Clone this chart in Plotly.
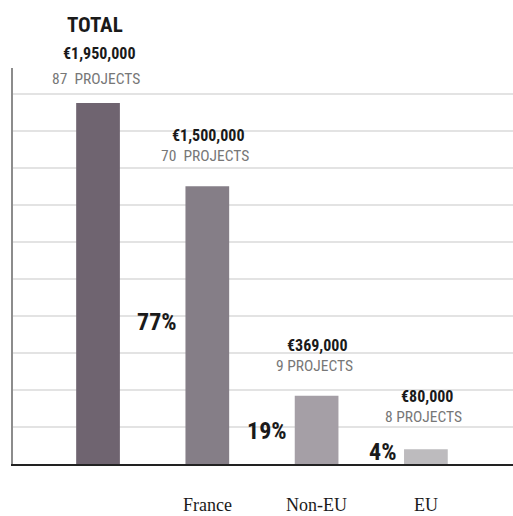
import plotly.graph_objects as go

categories = ["TOTAL", "France", "Non-EU", "EU"]
tick_labels = ["", "France", "Non-EU", "EU"]
amounts = [1950000, 1500000, 369000, 80000]
amount_labels = ["€1,950,000", "€1,500,000", "€369,000", "€80,000"]
project_labels = ["87  PROJECTS", "70  PROJECTS", "9 PROJECTS", "8 PROJECTS"]
shares = [None, "77%", "19%", "4%"]

bar_colors = ["#6f6470", "#857e87", "#a59fa6", "#bdbbbe"]
# style: label offsets above bar top (px)
amount_off = [50, 51, 50, 53]
proj_off = [24, 30, 30, 32]
share_y_px = [None, 142, 33, 12]

COND = "Roboto Condensed, Arial Narrow, Roboto, sans-serif"

fig = go.Figure()
fig.add_trace(go.Bar(
    x=categories, y=amounts, marker=dict(color=bar_colors, line=dict(width=0)),
    width=0.4, hoverinfo="skip",
))

ann = []
ann.append(dict(x=categories[0], y=amounts[0], xref="x", yref="y", text="<b>TOTAL</b>",
                showarrow=False, yshift=78, xshift=-3, yanchor="middle",
                font=dict(family=COND, size=21, color="#1a1a1a")))
for i, c in enumerate(categories):
    ann.append(dict(x=c, y=amounts[i], xref="x", yref="y", text="<b>%s</b>" % amount_labels[i],
                    showarrow=False, yshift=amount_off[i], yanchor="middle", xshift=1,
                    font=dict(family=COND, size=16, color="#1a1a1a")))
    ann.append(dict(x=c, y=amounts[i], xref="x", yref="y", text=project_labels[i],
                    showarrow=False, yshift=proj_off[i], yanchor="middle", xshift=-2,
                    font=dict(family=COND, size=15.5, color="#777777")))
    if shares[i]:
        ann.append(dict(x=c, y=0, xref="x", yref="y", text="<b>%s</b>" % shares[i],
                        showarrow=False, yshift=share_y_px[i], xshift=-28,
                        xanchor="right", yanchor="middle",
                        font=dict(family=COND, size=24, color="#1a1a1a")))
    if tick_labels[i]:
        ann.append(dict(x=c, y=0, xref="x", yref="y", text=tick_labels[i],
                        showarrow=False, yshift=-41, yanchor="middle",
                        font=dict(family="Liberation Serif, Times New Roman, serif", size=18,
                                  color="#1a1a1a")))

fig.update_layout(
    width=513, height=516,
    margin=dict(l=13, r=0, t=68, b=52),
    paper_bgcolor="white", plot_bgcolor="white",
    showlegend=False,
    annotations=ann,
    xaxis=dict(type="category", range=[-0.778, 3.797], showticklabels=False,
               showgrid=False, zeroline=False, showline=True, linecolor="#222222",
               linewidth=1.5, ticks=""),
    yaxis=dict(range=[0, 2139400], dtick=200000, tick0=0, showticklabels=False,
               showgrid=True, gridcolor="#e3e3e3", gridwidth=1.5, zeroline=False,
               showline=True, linecolor="#8c8c8c", linewidth=2, ticks=""),
)

fig.write_html("out.html")
